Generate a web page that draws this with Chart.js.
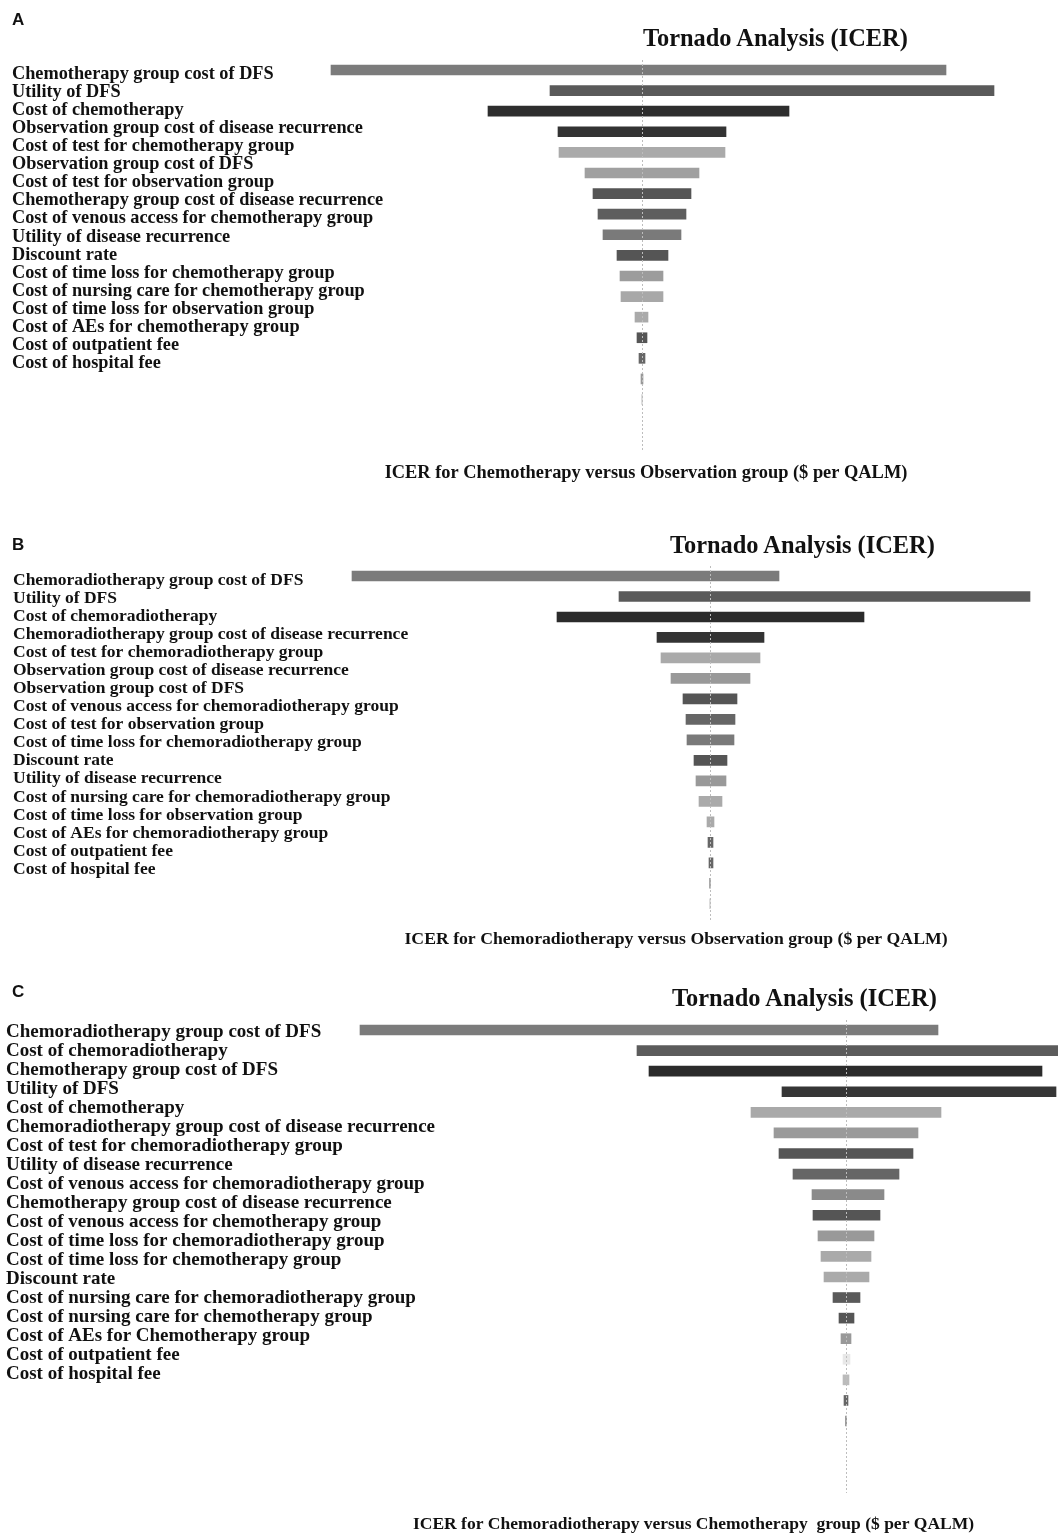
<!DOCTYPE html>
<html>
<head>
<meta charset="utf-8">
<script src="https://cdn.jsdelivr.net/npm/chart.js@4.4.1/dist/chart.umd.min.js"></script>
<style>
  body { margin: 0; background: #fff; }
  #page { position: relative; width: 1058px; height: 1535px; overflow: hidden; }
  .panel { position: absolute; left: 0; width: 1058px; }
  .letter { position: absolute; font: bold 17px "Liberation Sans", Arial, sans-serif; line-height: 17px; color: #111; }
  .title { position: absolute; font: bold 24.4px "Liberation Serif", "Times New Roman", serif; line-height: 24px; color: #111; white-space: nowrap; }
</style>
</head>
<body>
<div id="page">
  <div class="panel" style="top:0; height:490px"><canvas id="chartA"></canvas></div>
  <div class="panel" style="top:490px; height:470px"><canvas id="chartB"></canvas></div>
  <div class="panel" style="top:960px; height:575px"><canvas id="chartC"></canvas></div>

  <div class="letter" style="left:12px; top:11px">A</div>
  <div class="title" style="left:643px; top:26px">Tornado Analysis (ICER)</div>
  <div class="letter" style="left:12px; top:536px">B</div>
  <div class="title" style="left:670px; top:533px">Tornado Analysis (ICER)</div>
  <div class="letter" style="left:12px; top:983px">C</div>
  <div class="title" style="left:672px; top:986px">Tornado Analysis (ICER)</div>
</div>

<script>
// ---- data (change of ICER from base case) ----
const labelsA = [
  'Chemotherapy group cost of DFS',
  'Utility of DFS',
  'Cost of chemotherapy',
  'Observation group cost of disease recurrence',
  'Cost of test for chemotherapy group',
  'Observation group cost of DFS',
  'Cost of test for observation group',
  'Chemotherapy group cost of disease recurrence',
  'Cost of venous access for chemotherapy group',
  'Utility of disease recurrence',
  'Discount rate',
  'Cost of time loss for chemotherapy group',
  'Cost of nursing care for chemotherapy group',
  'Cost of time loss for observation group',
  'Cost of AEs for chemotherapy group',
  'Cost of outpatient fee',
  'Cost of hospital fee'
];
const lowA  = [-311, -92, -154, -84, -83, -57, -49, -44, -39, -25, -22, -21, -7, -5, -3, -1, 0];
const highA = [304, 352, 147, 84, 83, 57, 49, 44, 39, 26, 21, 21, 6, 5, 3, 1, 0];

const labelsB = [
  'Chemoradiotherapy group cost of DFS',
  'Utility of DFS',
  'Cost of chemoradiotherapy',
  'Chemoradiotherapy group cost of disease recurrence',
  'Cost of test for chemoradiotherapy group',
  'Observation group cost of disease recurrence',
  'Observation group cost of DFS',
  'Cost of venous access for chemoradiotherapy group',
  'Cost of test for observation group',
  'Cost of time loss for chemoradiotherapy group',
  'Discount rate',
  'Utility of disease recurrence',
  'Cost of nursing care for chemoradiotherapy group',
  'Cost of time loss for observation group',
  'Cost of AEs for chemoradiotherapy group',
  'Cost of outpatient fee',
  'Cost of hospital fee'
];
const lowB  = [-358, -91, -153, -53, -49, -39, -27, -24, -23, -16, -14, -11, -3, -2, -1, -0.5, 0];
const highB = [69, 320, 154, 54, 50, 40, 27, 25, 24, 17, 16, 12, 4, 3, 3, 0.5, 0];

const labelsC = [
  'Chemoradiotherapy group cost of DFS',
  'Cost of chemoradiotherapy',
  'Chemotherapy group cost of DFS',
  'Utility of DFS',
  'Cost of chemotherapy',
  'Chemoradiotherapy group cost of disease recurrence',
  'Cost of test for chemoradiotherapy group',
  'Utility of disease recurrence',
  'Cost of venous access for chemoradiotherapy group',
  'Chemotherapy group cost of disease recurrence',
  'Cost of venous access for chemotherapy group',
  'Cost of time loss for chemoradiotherapy group',
  'Cost of time loss for chemotherapy group',
  'Discount rate',
  'Cost of nursing care for chemoradiotherapy group',
  'Cost of nursing care for chemotherapy group',
  'Cost of AEs for Chemotherapy group',
  'Cost of outpatient fee',
  'Cost of hospital fee'
];
const lowC  = [-486, -209, -197, -64, -95, -72, -67, -53, -34, -33, -28, -25, -22, -13, -7, -5, -3, -3, -2, -0.5];
const highC = [92, 225, 196, 210, 95, 72, 67, 53, 38, 34, 28, 25, 23, 14, 8, 5, 4, 3, 2, 0.5];

// ---- styles ----
const colorsA = ['#7b7b7b', '#5a5a5a', '#2e2e2e', '#333333', '#aaaaaa', '#a0a0a0', '#555555', '#5e5e5e',
                 '#7a7a7a', '#555555', '#9c9c9c', '#a8a8a8', '#aaaaaa', '#555555', '#666666', '#999999', '#999999'];
const colorsB = ['#7b7b7b', '#5a5a5a', '#2b2b2b', '#333333', '#aaaaaa', '#999999', '#555555', '#666666',
                 '#7a7a7a', '#555555', '#999999', '#aaaaaa', '#aaaaaa', '#666666', '#666666', '#999999', '#999999'];
const colorsC = ['#7b7b7b', '#5c5c5c', '#2b2b2b', '#363636', '#a9a9a9', '#9a9a9a', '#555555', '#666666',
                 '#8a8a8a', '#555555', '#999999', '#aaaaaa', '#aaaaaa', '#5a5a5a', '#555555', '#999999',
                 '#e8e8e8', '#bbbbbb', '#666666', '#888888'];

const SERIF = '"Liberation Serif", "Times New Roman", serif';

// min/max of a linear row axis so that row 0 sits at `first` px and rows are `step` px apart
function rowRange(first, step, top, bottom) {
  const min = -(first - top) / step;
  return { min: min, max: min + (bottom - top) / step };
}

function tornado(id, o) {
  const rows = o.low.map((lo, i) => ({ x: [lo, o.high[i]], y: i }));
  const barRows = rowRange(o.barFirst, o.barStep, o.top, o.bottom);
  const labRows = rowRange(o.labFirst, o.labStep, o.top, o.bottom);

  return new Chart(document.getElementById(id), {
    type: 'bar',
    data: {
      datasets: [{
        data: rows,
        xAxisID: 'x',
        yAxisID: 'y',
        backgroundColor: o.colors,
        borderWidth: 0,
        barThickness: 10
      }]
    },
    options: {
      indexAxis: 'y',
      responsive: true,
      maintainAspectRatio: false,
      animation: false,
      layout: { padding: { left: o.padLeft, right: o.padRight, top: o.top, bottom: 0 } },
      plugins: {
        legend: { display: false },
        tooltip: { enabled: false }
      },
      scales: {
        x: {
          type: 'linear',
          position: 'bottom',
          min: o.xMin,
          max: o.xMax,
          // only the base-case line
          afterBuildTicks: (s) => { s.ticks = [{ value: 0 }]; },
          ticks: { display: false },
          grid: { color: '#bdbdbd', lineWidth: 1, drawTicks: false, z: 1 },
          border: { display: false, dash: [2, 2] },
          title: {
            display: true,
            text: o.xTitle,
            color: '#111',
            font: { family: SERIF, size: o.xTitleSize, weight: 'bold' },
            padding: { top: o.xTitlePad[0], bottom: o.xTitlePad[1] }
          }
        },
        y: {
          type: 'linear',
          reverse: true,
          offset: false,
          min: barRows.min,
          max: barRows.max,
          display: false
        },
        yl: {
          type: 'linear',
          position: 'left',
          reverse: true,
          offset: false,
          min: labRows.min,
          max: labRows.max,
          afterBuildTicks: (s) => { s.ticks = o.labels.map((_, i) => ({ value: i })); },
          afterFit: (s) => { s.width = o.labelWidth; },
          grid: { display: false },
          border: { display: false },
          ticks: {
            autoSkip: false,
            // mirror keeps long labels from being clipped at the axis box
            mirror: true,
            crossAlign: 'near',
            padding: -o.labelWidth,
            color: '#111',
            font: { family: SERIF, size: o.labelSize, weight: 'bold' },
            callback: (v) => o.labels[v] || ''
          }
        }
      }
    }
  });
}

tornado('chartA', {
  labels: labelsA, low: lowA, high: highA, colors: colorsA,
  padLeft: 12, labelWidth: 284, padRight: 62, xMin: -346, xMax: 354,
  top: 60, bottom: 452, barFirst: 70, barStep: 20.6, labFirst: 74, labStep: 18.1,
  labelSize: 18.3,
  xTitle: 'ICER for Chemotherapy versus Observation group ($ per QALM)',
  xTitleSize: 18.4, xTitlePad: [10, 6]
});

tornado('chartB', {
  labels: labelsB, low: lowB, high: highB, colors: colorsB,
  padLeft: 13, labelWidth: 299, padRight: 18, xMin: -398, xMax: 330,
  top: 76, bottom: 430, barFirst: 86, barStep: 20.5, labFirst: 90, labStep: 18.1,
  labelSize: 17.5,
  xTitle: 'ICER for Chemoradiotherapy versus Observation group ($ per QALM)',
  xTitleSize: 17.7, xTitlePad: [9.5, 9.5]
});

tornado('chartC', {
  labels: labelsC, low: lowC, high: highC, colors: colorsC,
  padLeft: 6, labelWidth: 323, padRight: 0, xMin: -517, xMax: 212,
  top: 60, bottom: 533, barFirst: 70, barStep: 20.58, labFirst: 72, labStep: 19,
  labelSize: 19,
  xTitle: 'ICER for Chemoradiotherapy versus Chemotherapy  group ($ per QALM)',
  xTitleSize: 17.5, xTitlePad: [21, 0]
});
</script>
</body>
</html>
